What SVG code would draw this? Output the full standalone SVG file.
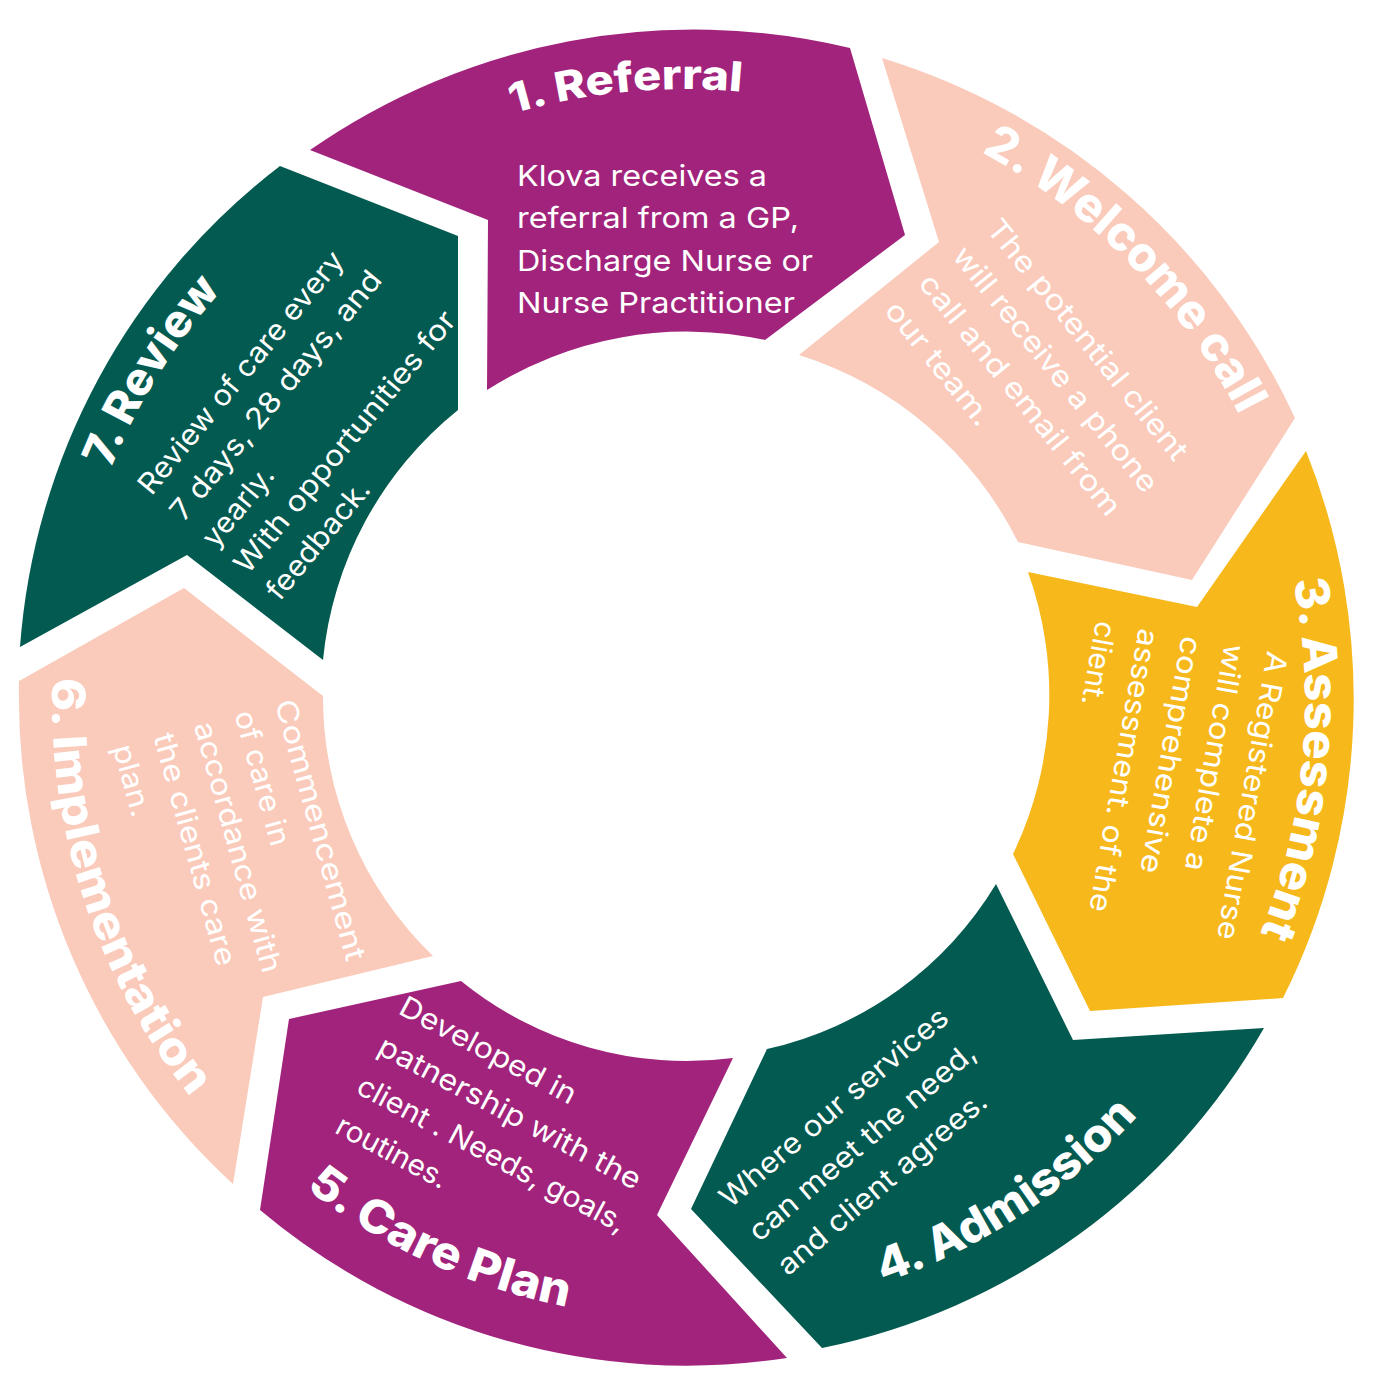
<svg xmlns="http://www.w3.org/2000/svg" width="1376" height="1376" viewBox="0 0 1376 1376">
<defs>
<style>
.purple{fill:#A1237C}
.peach{fill:#FACBBB}
.yellow{fill:#F6B81B}
.green{fill:#035A50}
.title{font-family:Inter,"Open Sans","Liberation Sans",sans-serif;font-weight:800;fill:#ffffff}
.body{font-family:Inter,"Open Sans","Liberation Sans",sans-serif;font-weight:400;font-size:29px;fill:#ffffff}
</style>
<path id="arc1" d="M513,113.5 A613,613 0 0 1 842.7,109.9"/>
<path id="arc2" d="M981.3,152.2 A625,625 0 0 1 1287.7,540.2"/>
<path id="arc3" d="M1293,580.3 A621,621 0 0 1 1192.7,1058.2"/>
<path id="arc4" d="M882.9,1282.9 A614,614 0 0 0 1215.7,1009"/>
<path id="arc5" d="M305.6,1188.1 A616,616 0 0 0 705.5,1317.6"/>
<path id="arc6" d="M52.5,677.7 A632,632 0 0 0 277.8,1186.1"/>
<path id="arc7" d="M110.5,469.1 A619,619 0 0 1 302.9,214.2"/>
</defs>
<rect width="1376" height="1376" fill="#ffffff"/>
<g id="connectors"/>

<g id="step1-referral">
<path class="purple" d="M310,150 A671,671 0 0 1 850,48 L905,235 L765,340 A370,370 0 0 0 487,390 L488,220 Z"/>
<text class="title" font-size="41"><textPath href="#arc1" textLength="231" lengthAdjust="spacingAndGlyphs">1. Referral</textPath></text>
<text class="body">
<tspan x="517" y="186" textLength="250" lengthAdjust="spacingAndGlyphs">Klova receives a</tspan>
<tspan x="517" y="228.3" textLength="282" lengthAdjust="spacingAndGlyphs">referral from a GP,</tspan>
<tspan x="517" y="270.6" textLength="296" lengthAdjust="spacingAndGlyphs">Discharge Nurse or</tspan>
<tspan x="517" y="313" textLength="278" lengthAdjust="spacingAndGlyphs">Nurse Practitioner</tspan>
</text>
</g>

<g id="step2-welcome-call">
<path class="peach" d="M882,58 A672,672 0 0 1 1295,418 L1192,580 L1018,542 A368,368 0 0 0 799,355 L939,242 Z"/>
<text class="title" font-size="48"><textPath href="#arc2" textLength="374" lengthAdjust="spacingAndGlyphs">2. Welcome call</textPath></text>
<text class="body" transform="translate(985,228.9) rotate(51)">
<tspan x="0" y="0" textLength="301" lengthAdjust="spacingAndGlyphs">The potential client</tspan>
<tspan x="0" y="43.5" textLength="307" lengthAdjust="spacingAndGlyphs">will receive a phone</tspan>
<tspan x="0" y="87" textLength="302" lengthAdjust="spacingAndGlyphs">call and email from</tspan>
<tspan x="0" y="130.5" textLength="151" lengthAdjust="spacingAndGlyphs">our team.</tspan>
</text>
</g>

<g id="step3-assessment">
<path class="yellow" d="M1306,451 A668,668 0 0 1 1283,998 L1090,1011 L1013,854 A366,366 0 0 0 1028,572 L1197,607 Z"/>
<text class="title" font-size="47"><textPath href="#arc3" textLength="360" lengthAdjust="spacingAndGlyphs">3. Assessment</textPath></text>
<text class="body" transform="translate(1267.6,650.2) rotate(100)">
<tspan x="0" y="0" textLength="292" lengthAdjust="spacingAndGlyphs">A Registered Nurse</tspan>
<tspan x="0" y="43.5" textLength="230" lengthAdjust="spacingAndGlyphs">will complete a</tspan>
<tspan x="0" y="87" textLength="240" lengthAdjust="spacingAndGlyphs">comprehensive</tspan>
<tspan x="0" y="130.5" textLength="287" lengthAdjust="spacingAndGlyphs">assessment. of the</tspan>
<tspan x="0" y="174" textLength="85" lengthAdjust="spacingAndGlyphs">client.</tspan>
</text>
</g>

<g id="step4-admission">
<path class="green" d="M1264,1028 A663,663 0 0 1 822,1348 L691,1209 L767,1049 A359,359 0 0 0 996,884 L1073,1040 Z"/>
<text class="title" font-size="46"><textPath href="#arc4" textLength="308" lengthAdjust="spacingAndGlyphs">4. Admission</textPath></text>
<text class="body" transform="translate(730,1209) rotate(-40.5)">
<tspan x="0" y="0" textLength="290" lengthAdjust="spacingAndGlyphs">Where our services</tspan>
<tspan x="0" y="44.5" textLength="288" lengthAdjust="spacingAndGlyphs">can meet the need,</tspan>
<tspan x="0" y="89" textLength="265" lengthAdjust="spacingAndGlyphs">and client agrees.</tspan>
</text>
</g>

<g id="step5-care-plan">
<path class="purple" d="M787,1358 A663,663 0 0 1 260,1210 L289,1019 L461,981 A358,358 0 0 0 733,1058 L657,1215 Z"/>
<text class="title" font-size="46"><textPath href="#arc5" textLength="290" lengthAdjust="spacingAndGlyphs">5. Care Plan</textPath></text>
<text class="body" transform="translate(397,1013) rotate(28)">
<tspan x="0" y="0" textLength="196" lengthAdjust="spacingAndGlyphs">Developed in</tspan>
<tspan x="0" y="45" textLength="293" lengthAdjust="spacingAndGlyphs">patnership with the</tspan>
<tspan x="0" y="90" textLength="300" lengthAdjust="spacingAndGlyphs">client . Needs, goals,</tspan>
<tspan x="0" y="135" textLength="122" lengthAdjust="spacingAndGlyphs">routines.</tspan>
</text>
</g>

<g id="step6-implementation">
<path class="peach" d="M233,1184 A662,662 0 0 1 19,681 L184,588 L323,696 A360,360 0 0 0 433,956 L263,997 Z"/>
<text class="title" font-size="46"><textPath href="#arc6" textLength="451" lengthAdjust="spacingAndGlyphs">6. Implementation</textPath></text>
<text class="body" transform="translate(274.7,702.6) rotate(74.5)">
<tspan x="0" y="0" textLength="270" lengthAdjust="spacingAndGlyphs">Commencement</tspan>
<tspan x="0" y="42" textLength="139" lengthAdjust="spacingAndGlyphs">of care in</tspan>
<tspan x="0" y="84" textLength="259" lengthAdjust="spacingAndGlyphs">accordance with</tspan>
<tspan x="0" y="126" textLength="240" lengthAdjust="spacingAndGlyphs">the clients care</tspan>
<tspan x="0" y="168" textLength="74" lengthAdjust="spacingAndGlyphs">plan.</tspan>
</text>
</g>

<g id="step7-review">
<path class="green" d="M20,647 A667,667 0 0 1 280,166 L458,236 L458,410 A366,366 0 0 0 323,660 L187,555 Z"/>
<text class="title" font-size="45"><textPath href="#arc7" textLength="211" lengthAdjust="spacingAndGlyphs">7. Review</textPath></text>
<text class="body" transform="translate(151.5,496.4) rotate(-50.5)">
<tspan x="0" y="0" textLength="305" lengthAdjust="spacingAndGlyphs">Review of care every</tspan>
<tspan x="0" y="41.5" textLength="314" lengthAdjust="spacingAndGlyphs">7 days, 28 days, and</tspan>
<tspan x="0" y="83" textLength="95" lengthAdjust="spacingAndGlyphs">yearly.</tspan>
<tspan x="0" y="124.5" textLength="330" lengthAdjust="spacingAndGlyphs">With opportunities for</tspan>
<tspan x="0" y="166" textLength="145" lengthAdjust="spacingAndGlyphs">feedback.</tspan>
</text>
</g>
</svg>
